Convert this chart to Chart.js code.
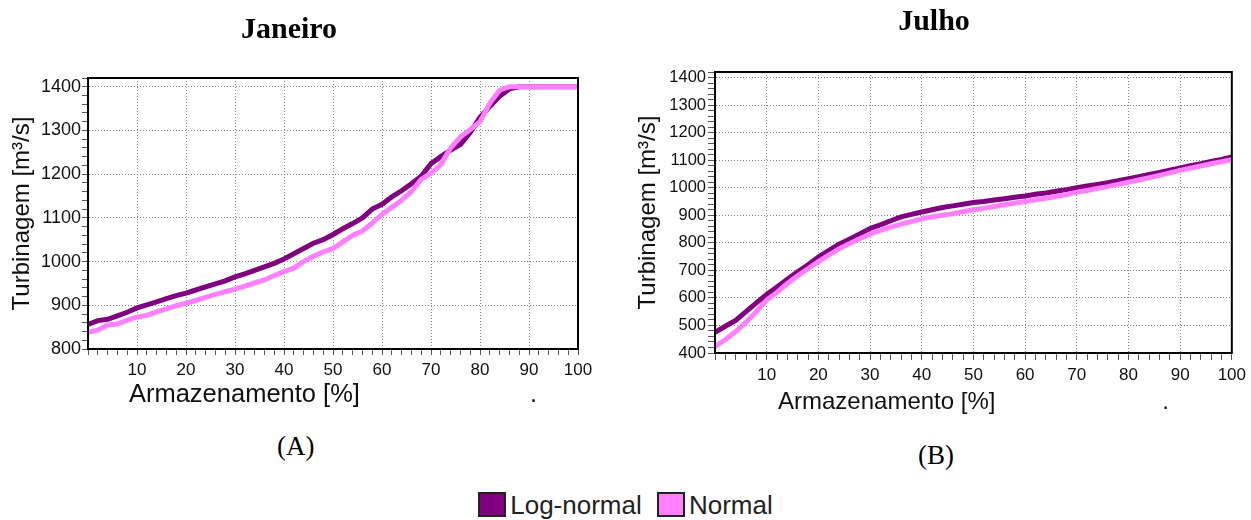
<!DOCTYPE html>
<html>
<head>
<meta charset="utf-8">
<script src="https://cdn.jsdelivr.net/npm/chart.js@4"></script>
<style>
  body { margin: 0; background: #fff; width: 1251px; height: 520px; position: relative; overflow: hidden; }
  .box { position: absolute; }
  .cap { position: absolute; font-family: "Liberation Serif", serif; font-size: 27px; color: #000; }
  #legend { position: absolute; left: 0; top: 490px; width: 1251px; text-align: center;
            font-family: "Liberation Sans", Arial, sans-serif; font-size: 26px; color: #222; }
  #legend span.sw { display: inline-block; width: 24px; height: 21px; border: 2px solid #222;
                    vertical-align: -3px; margin-right: 4px; }
  #legend span.it { margin: 0 4px; }
</style>
</head>
<body>
<div class="box" style="left:0;top:0;width:600px;height:420px"><canvas id="jan"></canvas></div>
<div class="box" style="left:634px;top:0;width:617px;height:420px"><canvas id="jul"></canvas></div>
<div class="cap" style="left:277px;top:431px">(A)</div>
<div class="cap" style="left:918px;top:440px">(B)</div>
<div id="legend">
  <span class="it"><span class="sw" style="background:#800080"></span>Log-normal</span>
  <span class="it"><span class="sw" style="background:#ff80ff"></span>Normal</span>
</div>
<script>
// storage levels [%]
const storage = [0, 2, 4, 6, 8, 10, 12, 14, 16, 18, 20, 22, 24, 26, 28, 30, 32, 34, 36, 38, 40,
  42, 44, 46, 48, 50, 52, 54, 56, 58, 60, 62, 64, 66, 68, 70, 72, 74, 76, 78, 80,
  82, 84, 86, 88, 90, 92, 94, 96, 98, 100];

// Janeiro
const janLogNormal = [856, 865, 868, 876, 884, 894, 901, 908, 915, 922, 928, 935, 942, 949, 956, 965, 972, 980, 988, 996, 1006,
  1018, 1030, 1042, 1050, 1062, 1075, 1087, 1100, 1120, 1131, 1148, 1162, 1178, 1195, 1224, 1240, 1255, 1268, 1295, 1330,
  1355, 1378, 1395, 1400, 1400, 1400, 1400, 1400, 1400, 1400];
const janNormal = [838, 843, 855, 857, 866, 873, 877, 885, 892, 899, 905, 911, 918, 925, 931, 937, 944, 951, 958, 968, 977,
  985, 1000, 1012, 1022, 1030, 1045, 1060, 1070, 1088, 1108, 1124, 1140, 1160, 1188, 1202, 1222, 1260, 1285, 1302, 1320,
  1362, 1392, 1400, 1400, 1400, 1400, 1400, 1400, 1400, 1400];

// Julho
const julLogNormal = [475, 497, 518, 550, 582, 612, 640, 668, 695, 720, 748, 772, 795, 813, 832, 852, 865, 880, 894, 903, 912,
  920, 928, 934, 940, 946, 950, 955, 960, 965, 970, 976, 981, 987, 993, 1000, 1006, 1012, 1018, 1025, 1033,
  1040, 1048, 1055, 1064, 1072, 1080, 1087, 1095, 1103, 1112];
const julNormal = [424, 448, 478, 512, 550, 592, 620, 652, 680, 706, 732, 755, 778, 797, 815, 832, 845, 857, 868, 877, 887,
  894, 900, 906, 913, 920, 925, 932, 938, 944, 950, 956, 962, 968, 975, 984, 990, 997, 1004, 1012, 1020,
  1028, 1036, 1045, 1054, 1063, 1071, 1079, 1087, 1094, 1102];

const seriesNames = ['Log-normal', 'Normal'];
const seriesColors = ['#800080', '#ff80ff'];

const sans = '"Liberation Sans", Arial, sans-serif';

// black frame around the plot area
const frame = {
  id: 'frame',
  afterDraw(chart) {
    const a = chart.chartArea, c = chart.ctx;
    c.save();
    c.strokeStyle = '#000';
    c.lineWidth = 2;
    c.strokeRect(a.left, a.top, a.right - a.left, a.bottom - a.top);
    c.restore();
  }
};

function pts(vals) {
  return storage.map((s, i) => ({ x: s, y: vals[i] }));
}

function makeChart(id, title, logVals, normVals, g) {
  const ctx = document.getElementById(id).getContext('2d');
  return new Chart(ctx, {
    type: 'line',
    data: {
      datasets: [
        { label: seriesNames[0], data: pts(logVals), borderColor: seriesColors[0], backgroundColor: seriesColors[0],
          borderWidth: 5, pointRadius: 0, tension: 0, order: 2 },
        { label: seriesNames[1], data: pts(normVals), borderColor: seriesColors[1], backgroundColor: seriesColors[1],
          borderWidth: 5, pointRadius: 0, tension: 0, order: 1 }
      ]
    },
    options: {
      responsive: true,
      maintainAspectRatio: false,
      animation: false,
      layout: { padding: { left: 0, right: g.padRight, top: 0, bottom: 0 } },
      plugins: {
        legend: { display: false },
        tooltip: { enabled: false },
        title: {
          display: true,
          text: title,
          color: '#000',
          font: { family: '"Liberation Serif", serif', size: 30, weight: 'bold' },
          padding: { top: g.titleTop, bottom: g.titleBottom }
        }
      },
      scales: {
        x: {
          type: 'linear',
          min: 0, max: 100,
          afterFit: (s) => { s.height = g.xHeight; },
          ticks: {
            stepSize: 2, autoSkip: false, maxRotation: 0, padding: g.xPad,
            color: '#111', font: { family: sans, size: g.tickSize },
            callback: (v) => (v % 10 === 0 && v !== 0 ? v : '')
          },
          grid: {
            color: (c) => (c.tick && c.tick.value % 10 === 0 ? '#888' : 'rgba(0,0,0,0)'),
            tickColor: '#555', tickLength: g.tickLen, tickBorderDash: [], lineWidth: 1
          },
          border: { color: '#000', width: 2, dash: [1, 2] },
          title: {
            display: true, text: 'Armazenamento [%]' + ' '.repeat(g.gap) + '.', color: '#111',
            font: { family: sans, size: g.xTitleSize }, padding: { top: 0, bottom: g.xTitlePad }
          }
        },
        y: {
          min: g.yMin, max: g.yMax,
          afterFit: (s) => { s.width = g.yWidth; },
          ticks: {
            stepSize: 20, autoSkip: false, padding: g.yPad,
            color: '#111', font: { family: sans, size: g.yTickSize },
            callback: (v) => (v % 100 === 0 && v <= 1400 ? v : '')
          },
          grid: {
            color: (c) => (c.tick && c.tick.value % 100 === 0 ? '#888' : 'rgba(0,0,0,0)'),
            tickColor: '#555', tickLength: g.tickLen, tickBorderDash: [], lineWidth: 1
          },
          border: { color: '#000', width: 2, dash: [1, 2] },
          title: {
            display: true, text: 'Turbinagem [m³/s]', color: '#111',
            font: { family: sans, size: 24 }, padding: { top: g.yTitlePad, bottom: 0 }
          }
        }
      }
    },
    plugins: [frame]
  });
}

makeChart('jan', 'Janeiro', janLogNormal, janNormal, {
  padRight: 22, titleTop: 12, titleBottom: 30,
  xHeight: 71, xPad: 5, xTitlePad: 9.6, xTitleSize: 25.5, gap: 24, tickSize: 17, tickLen: 6,
  yMin: 800, yMax: 1420, yWidth: 88, yPad: 1, yTickSize: 18, yTitlePad: 8
});

makeChart('jul', 'Julho', julLogNormal, julNormal, {
  padRight: 17, titleTop: 4, titleBottom: 32,
  xHeight: 67, xPad: 5, xTitlePad: 3.6, xTitleSize: 24, gap: 25, tickSize: 17, tickLen: 7,
  yMin: 400, yMax: 1420, yWidth: 81, yPad: 2, yTickSize: 16.5, yTitlePad: 0
});
</script>
</body>
</html>
